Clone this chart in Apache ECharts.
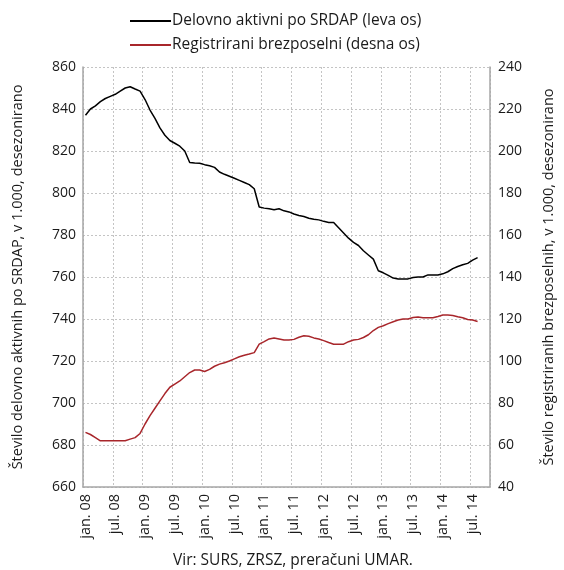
<!DOCTYPE html>
<html>
<head>
<meta charset="utf-8">
<script src="https://cdn.jsdelivr.net/npm/echarts@6/dist/echarts.min.js"></script>
<style>
  html, body { margin: 0; padding: 0; background: #fff; }
  #chart { width: 564px; height: 570px; }
</style>
</head>
<body>
<div id="chart"></div>
<script>
// mesečne oznake jan.08 - okt.14
const meseci = ['jan', 'feb', 'mar', 'apr', 'maj', 'jun', 'jul', 'avg', 'sep', 'okt', 'nov', 'dec']
const leta = ['08', '09', '10', '11', '12', '13', '14']
const kategorije = []
leta.forEach(l => meseci.forEach(m => kategorije.push(m + '. ' + l)))
kategorije.splice(82) // do okt.14

// delovno aktivni po SRDAP, v 1.000 (leva os)
const aktivni = [
  837, 840, 841.5, 843.5, 845, 846, 847, 848.5, 850, 850.6, 849.5, 848.5,
  844.5, 839.5, 835.5, 831, 827.5, 825, 823.7, 822.3, 820, 814.5, 814.3, 814.2,
  813.5, 813, 812.2, 810, 808.9, 808, 807, 806, 805, 804, 802, 793.3,
  792.8, 792.5, 792, 792.5, 791.5, 791, 790, 789.3, 788.8, 788, 787.5, 787.2,
  786.5, 786, 786, 783.5, 781, 778.5, 776.5, 775, 772.5, 770.5, 768.5, 763,
  762, 760.8, 759.5, 759.1, 759.1, 759.1, 759.8, 760, 760, 761, 761, 761,
  761.5, 762.5, 764, 765, 765.8, 766.5, 768, 769.2
]

// registrirani brezposelni, v 1.000 (desna os)
const brezposelni = [
  66, 65, 63.5, 62, 62, 62, 62, 62, 62, 62.8, 63.5, 65.5,
  70, 74, 77.5, 81, 84.5, 87.5, 89, 90.5, 92.5, 94.5, 95.7, 95.7,
  95, 96, 97.5, 98.5, 99.2, 100, 101, 102, 102.7, 103.3, 104, 108,
  109.2, 110.5, 111, 110.5, 110, 110, 110.3, 111.3, 112, 111.8, 111, 110.5,
  109.7, 108.8, 108, 108, 108, 109.2, 110, 110.3, 111.2, 112.5, 114.5, 116,
  116.8, 117.8, 118.7, 119.5, 120, 120, 120.7, 121, 120.6, 120.6, 120.6, 121.2,
  121.9, 121.9, 121.7, 121.1, 120.6, 119.8, 119.5, 118.8
]

const font = 'Open Sans'
const gridLine = { show: true, lineStyle: { color: '#c4c4c4', type: [2, 2], width: 1 } }
const frame = { show: true, lineStyle: { color: '#a6a6a6', width: 1.5 } }

const myChart = echarts.init(document.getElementById('chart'), null, { renderer: 'canvas' })
const option = {
  backgroundColor: '#fff',
  animation: false,
  textStyle: { fontFamily: font, color: '#1a1a1a' },
  title: {
    text: 'Vir: SURS, ZRSZ, preračuni UMAR.',
    left: 168,
    top: 548,
    textStyle: { fontFamily: font, fontSize: 15.5, fontWeight: 'normal', color: '#1a1a1a' }
  },
  legend: {
    orient: 'vertical',
    left: 124,
    top: 8,
    itemWidth: 41,
    itemHeight: 2,
    itemGap: 8,
    textStyle: { fontFamily: font, fontSize: 15.5, color: '#1a1a1a', padding: [0, 0, 0, -4] },
    data: ['Delovno aktivni po SRDAP (leva os)', 'Registrirani brezposelni (desna os)']
  },
  grid: { left: 83, right: 67, top: 67, bottom: 83 },
  xAxis: {
    type: 'category',
    data: kategorije,
    boundaryGap: true,
    axisLine: frame,
    axisTick: { show: false, interval: 5 },
    splitLine: Object.assign({ interval: 5 }, gridLine),
    axisLabel: { interval: 5, rotate: 90, margin: 7, fontSize: 14.5, color: '#1a1a1a', fontFamily: font }
  },
  yAxis: [
    {
      type: 'value',
      min: 660,
      max: 860,
      interval: 20,
      position: 'left',
      name: 'Število delovno aktivnih po SRDAP, v 1.000, desezonirano',
      nameLocation: 'middle',
      nameRotate: 90,
      nameGap: 58,
      nameTextStyle: { fontSize: 14.5, color: '#1a1a1a', fontFamily: font },
      axisLine: frame,
      axisTick: { show: false },
      splitLine: gridLine,
      axisLabel: { fontSize: 14, color: '#1a1a1a', margin: 7, fontFamily: font }
    },
    {
      type: 'value',
      min: 40,
      max: 240,
      interval: 20,
      position: 'right',
      name: 'Število registriranih brezposelnih, v 1.000, desezonirano',
      nameLocation: 'middle',
      nameRotate: 90,
      nameGap: 51,
      nameTextStyle: { fontSize: 14.5, color: '#1a1a1a', fontFamily: font },
      axisLine: frame,
      axisTick: { show: false },
      splitLine: { show: false },
      axisLabel: { fontSize: 14, color: '#1a1a1a', margin: 8, fontFamily: font }
    }
  ],
  series: [
    {
      name: 'Delovno aktivni po SRDAP (leva os)',
      type: 'line',
      yAxisIndex: 0,
      symbol: 'none',
      itemStyle: { color: '#000' },
      lineStyle: { color: '#000', width: 1.5 },
      data: aktivni
    },
    {
      name: 'Registrirani brezposelni (desna os)',
      type: 'line',
      yAxisIndex: 1,
      symbol: 'none',
      itemStyle: { color: '#a8262b' },
      lineStyle: { color: '#a8262b', width: 1.5 },
      data: brezposelni
    }
  ]
}
myChart.setOption(option)
</script>
</body>
</html>
